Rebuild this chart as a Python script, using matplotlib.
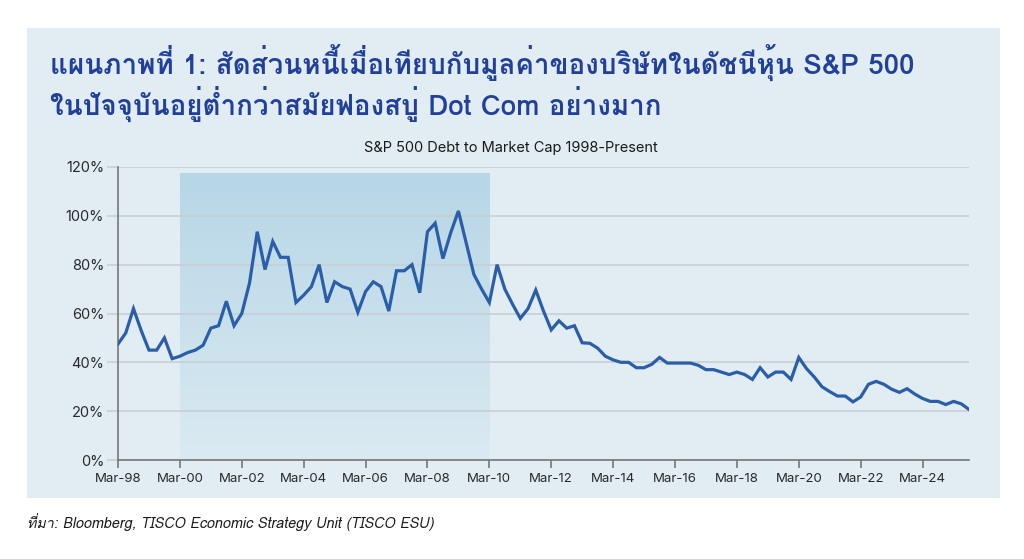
import matplotlib
matplotlib.use("Agg")
import matplotlib.pyplot as plt
import numpy as np
from matplotlib import font_manager
from matplotlib.ft2font import FT2Font
from matplotlib.patches import Rectangle
from matplotlib.colors import LinearSegmentedColormap

# ---------------- data ----------------
title_text = ("แผนภาพที่ 1: สัดส่วนหนี้เมื่อเทียบกับมูลค่าของบริษัทในดัชนีหุ้น S&P 500\n"
              "ในปัจจุบันอยู่ต่ำกว่าสมัยฟองสบู่ Dot Com อย่างมาก")
chart_title = "S&P 500 Debt to Market Cap 1998-Present"
source_text = "ที่มา: Bloomberg, TISCO Economic Strategy Unit (TISCO ESU)"

# quarterly, Mar-98 .. Sep-25 (percent)
debt_to_mcap = [
    47.5, 52, 62, 53, 45, 45, 50, 41.5,          # 1998-1999
    42.5, 44, 45, 47, 54, 55, 65, 55,            # 2000-2001
    60, 72.5, 93.5, 78, 89.5, 83, 83, 64.5,      # 2002-2003
    67.5, 71, 80, 64.5, 73, 71, 70, 60.5,        # 2004-2005
    69, 73, 71, 61, 77.5, 77.5, 80, 68.5,        # 2006-2007
    93.5, 97, 82.5, 93, 102, 89, 76, 70,         # 2008-2009
    64.5, 80, 70, 63.8, 58, 62, 69.6, 61,        # 2010-2011
    53.3, 57, 54, 55, 48, 47.8, 45.8, 42.5,      # 2012-2013
    41, 40, 40, 37.8, 37.8, 39.2, 42, 39.7,      # 2014-2015
    39.7, 39.7, 39.7, 38.8, 37, 37, 36, 35,      # 2016-2017
    36, 35, 33, 37.8, 34, 36, 36, 33,            # 2018-2019
    42, 37.4, 34, 30, 28, 26.2, 26.2, 23.8,      # 2020-2021
    25.8, 31, 32.2, 31, 29, 27.7, 29.2, 27,      # 2022-2023
    25.2, 24, 24, 22.7, 24, 23, 20.7,            # 2024-2025
]
tick_labels = ["Mar-98", "Mar-00", "Mar-02", "Mar-04", "Mar-06", "Mar-08",
               "Mar-10", "Mar-12", "Mar-14", "Mar-16", "Mar-18", "Mar-20",
               "Mar-22", "Mar-24"]
y_ticks = [0, 20, 40, 60, 80, 100, 120]
shade_start_label = "Mar-00"
shade_end_label = "Mar-10"
shade_top = 117.5

# ---------------- fonts ----------------
def find_font_with(ch):
    for f in font_manager.fontManager.ttflist:
        try:
            ft = FT2Font(f.fname)
            if ft.get_char_index(ord(ch)):
                return f.name
        except Exception:
            pass
    return None

thai = find_font_with("ก")
fam = [thai, "DejaVu Sans"] if thai else ["DejaVu Sans"]
latin = ["Inter", "DejaVu Sans"]
plt.rcParams['font.family'] = fam

# ---------------- figure ----------------
W, H = 1024, 559
fig = plt.figure(figsize=(W / 100, H / 100), dpi=100)
fig.patch.set_facecolor("white")

panel_bg = "#e1ecf3"
fig.patches.append(Rectangle((27 / W, 1 - 498 / H), (1000 - 27) / W, (498 - 28) / H,
                             transform=fig.transFigure, facecolor=panel_bg,
                             edgecolor="none", zorder=-10))

ax = fig.add_axes([118 / W, 1 - 460 / H, (969 - 118) / W, (460 - 167) / H])
ax.set_zorder(5)
ax.set_facecolor("none")

x = np.arange(len(debt_to_mcap))
tick_pos = [tick_labels.index(t) * 8 for t in tick_labels]

# gradient shading for Dot-com era
xs0 = tick_labels.index(shade_start_label) * 8
xs1 = tick_labels.index(shade_end_label) * 8
cmap = LinearSegmentedColormap.from_list("sh", ["#daeaf2", "#b7d6e6"])
grad = np.linspace(0, 1, 256).reshape(-1, 1)
ax.imshow(grad, extent=[xs0, xs1, 0, shade_top], origin="lower", cmap=cmap,
          aspect="auto", zorder=1)

ax.plot(x, debt_to_mcap, color="#2b5ea8", lw=2.3, zorder=4,
        solid_joinstyle="miter")

ax.set_xlim(0, len(debt_to_mcap) - 1)
ax.set_ylim(0, 120)
ax.set_yticks(y_ticks)
ax.set_yticklabels([f"{v}%" for v in y_ticks], fontsize=10.5, color="#2a2a2a",
                   family=latin)
ax.set_xticks(tick_pos)
ax.set_xticklabels(tick_labels, fontsize=9.5, color="#2a2a2a", family=latin)
ax.grid(axis="y", color="#c8cdd1", lw=1.1, zorder=2)
ax.set_axisbelow(False)
for l in ax.get_ygridlines():
    l.set_zorder(2)
ax.tick_params(axis="y", length=8, color="#c8cdd1", width=1.1, pad=2)
ax.tick_params(axis="x", length=6, color="#777777", width=1.2, pad=3)
for s in ["top", "right"]:
    ax.spines[s].set_visible(False)
for s in ["left", "bottom"]:
    ax.spines[s].set_color("#777777")
    ax.spines[s].set_linewidth(1.2)
    ax.spines[s].set_zorder(3)

fig.text(50 / W, 1 - 45 / H, title_text, ha="left", va="top", fontsize=20,
         fontweight="bold", color="#21409a", linespacing=1.12)
fig.text(511 / W, 1 - 148 / H, chart_title, ha="center", va="center",
         fontsize=10.5, color="#1a1a1a", family=latin)
fig.text(27 / W, 1 - 522 / H, source_text, ha="left", va="center",
         fontsize=10.3, style="italic", color="#1a1a1a")

fig.savefig("out.png", dpi=100, facecolor="white")
